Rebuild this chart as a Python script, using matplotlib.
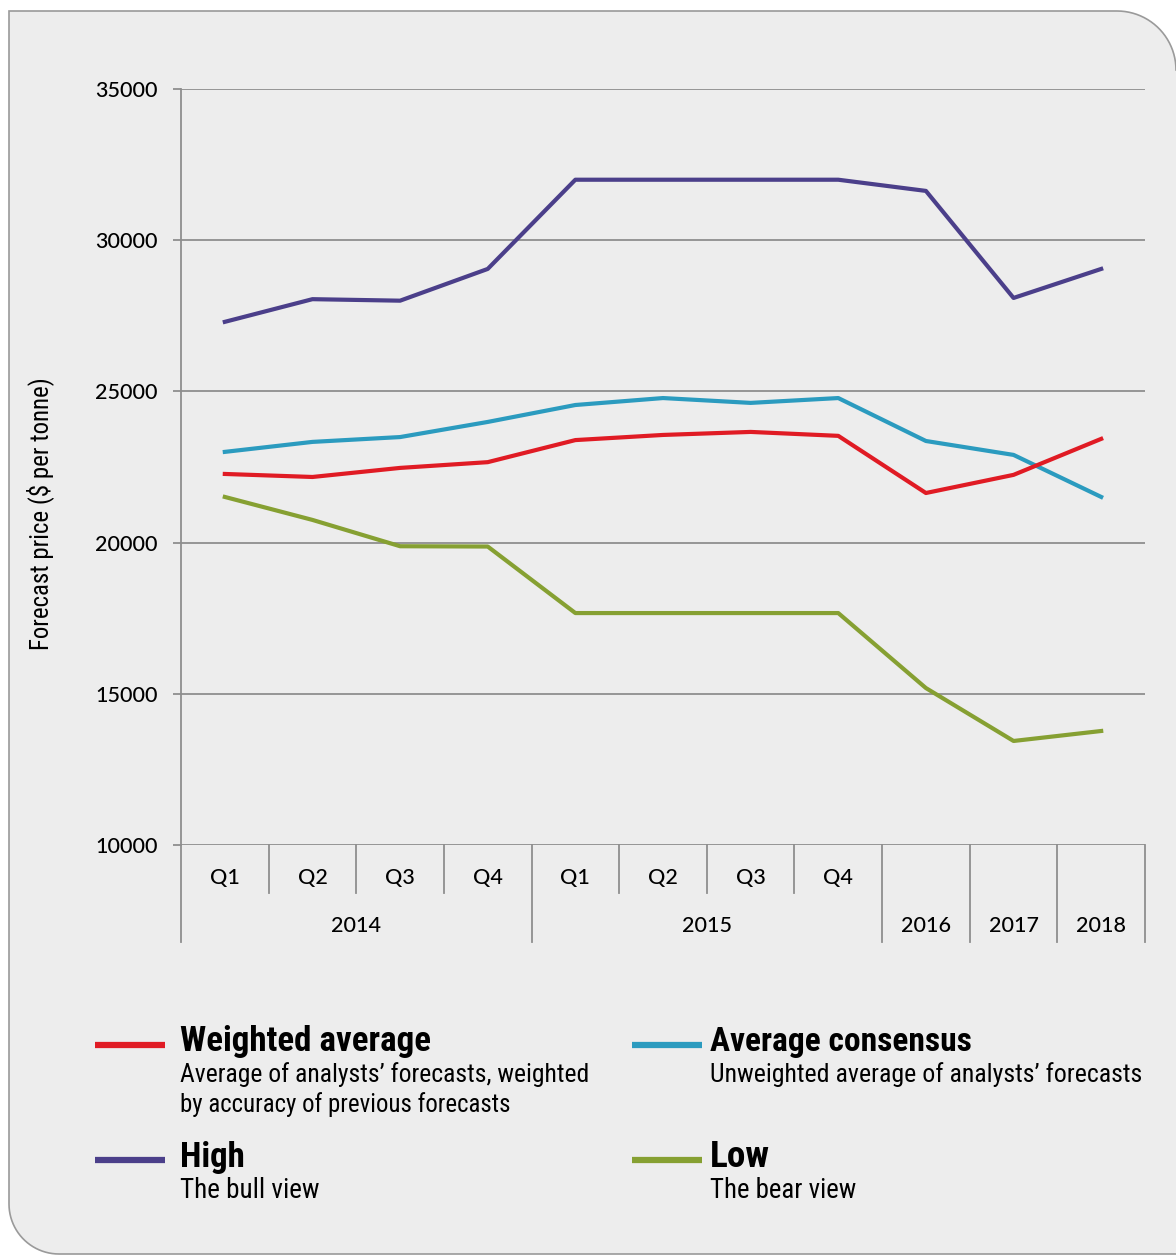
import numpy as np
import matplotlib.pyplot as plt
from matplotlib.patches import PathPatch
from matplotlib.path import Path

# category axis: eight quarters, then three years
quarters = ["Q1", "Q2", "Q3", "Q4", "Q1", "Q2", "Q3", "Q4", "", "", ""]
years = ["2014", "2015", "2016", "2017", "2018"]
year_spans = [(0, 3), (4, 7), (8, 8), (9, 9), (10, 10)]

weighted = [22270, 22170, 22470, 22660, 23390, 23560, 23660, 23530, 21640, 22240, 23430]
consensus = [23000, 23330, 23490, 23990, 24550, 24780, 24620, 24780, 23360, 22900, 21510]
high = [27300, 28050, 28000, 29050, 32000, 32000, 32000, 32000, 31630, 28090, 29050]
low = [21510, 20750, 19880, 19870, 17670, 17670, 17670, 17670, 15190, 13440, 13770]

RED = "#e01b24"
BLUE = "#2b9bbf"
PURPLE = "#4b3f8a"
GREEN = "#86a032"
GRID = "#8e8e8e"

NARROW = ["Roboto Condensed", "DejaVu Sans Condensed", "Liberation Sans Narrow", "Roboto"]
NARROW_BOLD = ["Roboto Condensed", "DejaVu Sans Condensed", "Liberation Sans Narrow", "Liberation Sans"]

W, H = 1176, 1255
fig = plt.figure(figsize=(W / 100, H / 100), dpi=100)
fig.patch.set_facecolor("white")

# panel with two rounded corners, drawn in pixel coordinates
bg = fig.add_axes([0, 0, 1, 1])
bg.set_xlim(0, W)
bg.set_ylim(H, 0)
bg.axis("off")
t = np.linspace(np.pi / 2, 0, 24)
tr = np.column_stack([1117 + 59 * np.cos(t), 70 - 59 * np.sin(t)])
t = np.linspace(np.pi / 2, np.pi, 24)
bl = np.column_stack([59 + 50 * np.cos(t), 1204 + 50 * np.sin(t)])
verts = np.vstack([[[9, 11]], tr, [[1185, 70], [1185, 1254]], bl, [[9, 11]]])
codes = [Path.MOVETO] + [Path.LINETO] * (len(verts) - 2) + [Path.CLOSEPOLY]
bg.add_patch(PathPatch(Path(verts, codes), facecolor="#ededed", edgecolor="#9a9a9a", lw=1.2))

ax = fig.add_axes([181 / W, 1 - 845 / H, 964 / W, 756 / H])
ax.patch.set_alpha(0)
x = np.arange(len(quarters))
ax.plot(x, high, color=PURPLE, lw=3, zorder=3)
ax.plot(x, consensus, color=BLUE, lw=3, zorder=3)
ax.plot(x, weighted, color=RED, lw=3, zorder=4)
ax.plot(x, low, color=GREEN, lw=3, zorder=3)

ax.set_xlim(-0.5, len(quarters) - 0.5)
ax.set_ylim(10000, 35000)
ax.set_yticks(range(10000, 35001, 5000))
ax.yaxis.grid(True, color=GRID, lw=1.3)
ax.set_axisbelow(True)
for s in ("top", "right", "bottom"):
    ax.spines[s].set_visible(False)
ax.spines["left"].set_color(GRID)
ax.spines["left"].set_linewidth(1.3)
ax.set_xticks([])
ax.tick_params(axis="y", length=6, width=1.3, color=GRID, pad=11, labelsize=15.5)
for lab in ax.get_yticklabels():
    lab.set_family("Lato")
    lab.set_fontweight("medium")

# y label placed in pixel space so it can be sized to its length
ylab = bg.text(40, 514, "Forecast price ($ per tonne)", rotation=90, ha="center", va="center",
               family=NARROW, fontsize=17)

# category separators below the plot area
trans = ax.get_xaxis_transform()
year_edges = {-0.5} | {e + 0.5 for _, e in year_spans}
for b in np.arange(-0.5, len(quarters), 1.0):
    depth = 0.128 if b in year_edges else 0.063
    ax.plot([b, b], [0, -depth], color=GRID, lw=1.3, transform=trans, clip_on=False)
for i, q in enumerate(quarters):
    if q:
        ax.text(i, -0.044, q, transform=trans, ha="center", va="center", fontsize=15.5,
                family="Lato", fontweight="medium")
for yr, (a, b) in zip(years, year_spans):
    ax.text((a + b) / 2, -0.107, yr, transform=trans, ha="center", va="center", fontsize=15.5,
            family="Lato", fontweight="medium")

# legend block: (swatch x, text x, row y, colour, heading, heading width, lines with widths)
legend = [
    (95, 180, 1045, RED, "Weighted average", 251,
     [("Average of analysts’ forecasts, weighted", 410), ("by accuracy of previous forecasts", 332)]),
    (632, 710, 1045, BLUE, "Average consensus", 262,
     [("Unweighted average of analysts’ forecasts", 433)]),
    (95, 180, 1160, PURPLE, "High", 65, [("The bull view", 140)]),
    (632, 710, 1160, GREEN, "Low", 60, [("The bear view", 147)]),
]
fitted = []
for sx, tx, ty, col, head, hw, lines in legend:
    bg.plot([sx, sx + 70], [ty, ty], color=col, lw=4.5, solid_capstyle="butt")
    h = bg.text(tx, ty - 3, head, va="center", ha="left", fontsize=19, fontweight="bold",
                family=NARROW_BOLD)
    fitted.append((h, hw))
    for k, (line, lw_) in enumerate(lines):
        d = bg.text(tx, ty + 30 + 30 * k, line, va="center", ha="left", fontsize=18,
                    family=NARROW)
        fitted.append((d, lw_))

# scale the legend and axis-title text to the widths they occupy
fig.canvas.draw()
renderer = fig.canvas.get_renderer()
for txt, target in fitted:
    w = txt.get_window_extent(renderer).width
    txt.set_fontsize(txt.get_fontsize() * target / w)
hgt = ylab.get_window_extent(renderer).height
ylab.set_fontsize(ylab.get_fontsize() * 272 / hgt)

fig.savefig("out.png", dpi=100)
